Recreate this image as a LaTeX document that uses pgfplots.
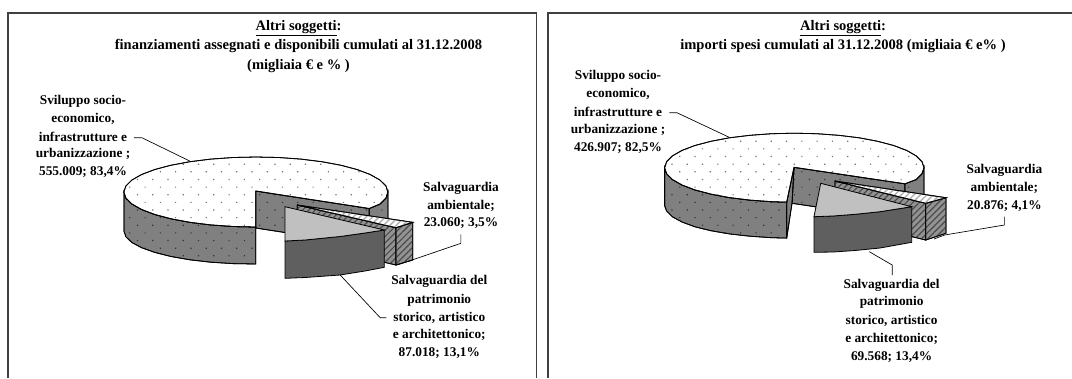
\documentclass[border=0pt]{standalone}
\usepackage{fontspec}
\setmainfont{Liberation Serif}
\usepackage{pgfplots}
\pgfplotsset{compat=1.18}
\usetikzlibrary{patterns.meta}
\definecolor{wallgray}{HTML}{808080}
\definecolor{darkwall}{HTML}{5F5F5F}
\definecolor{lighttop}{HTML}{C0C0C0}
\tikzset{
  dottop/.style={draw=black, line width=0.6pt, preaction={fill=white},
    pattern={Dots[distance=8.1pt, angle=45, radius=0.62pt]}, pattern color=black!55},
  dotwall/.style={draw=black, line width=0.6pt, preaction={fill=wallgray},
    pattern={Dots[distance=8.1pt, angle=45, radius=0.62pt]}, pattern color=black!80},
  hatchtop/.style={draw=black, line width=0.6pt, preaction={fill=white},
    pattern={Lines[distance=3.4pt, angle=45, line width=1.1pt]}, pattern color=black!30},
  hatchwall/.style={draw=black, line width=0.6pt, preaction={fill=wallgray!85},
    pattern={Lines[distance=3.4pt, angle=45, line width=0.9pt]}, pattern color=black!70},
  lead/.style={black, line width=0.5pt},
  lab/.style={font=\fontsize{10pt}{11pt}\selectfont\bfseries, anchor=center, inner sep=0pt},
  ttl/.style={font=\fontsize{10.9pt}{11pt}\selectfont\bfseries, anchor=center, inner sep=0pt},
}
\begin{document}
\begin{tikzpicture}
\begin{axis}[
  scale only axis, width=804pt, height=283.5pt,
  xmin=0, xmax=1072, ymin=0, ymax=378, y dir=reverse,
  hide axis, clip=true, line join=miter,
]
% keeps the page as large as the whole axis
\path (axis cs:0,0) rectangle (axis cs:1072,378);
% frames
\addplot[black!75, line width=1.1pt] coordinates {(8,378) (8,13) (536.5,13) (536.5,378)};
\addplot[black!75, line width=1.1pt] coordinates {(547.8,378) (547.8,13) (1072,13)};

% left pie: large slice
\addplot[dotwall] coordinates {(255.7,191) (369.3,208.5) (369.3,245.5) (255.7,228)} --cycle;
\addplot[dotwall] coordinates {(369.3,208.5) (380,204) (385.9,198.1) (387.9,192) (387.9,229) (385.9,235.1) (380,241) (369.3,245.5)} --cycle;
\addplot[dotwall] coordinates {(123.9,192) (125.9,198.1) (131.9,204) (141.6,209.5) (154.8,214.5) (171.1,218.8) (189.9,222.3) (210.8,224.9) (233,226.5) (255.7,227)
  (255.7,264) (233,263.6) (210.8,262.2) (189.9,259.8) (171.1,256.5) (154.8,252.4) (141.6,247.7) (131.9,242.5) (125.9,236.8) (123.9,231)} --cycle;
\addplot[dottop] coordinates {(255.7,191) (369.3,208.5) (380,204) (385.9,198.1) (387.9,192) (385.9,185.9) (379.9,180) (370.2,174.5) (357,169.5) (340.7,165.2) (321.9,161.7) (301,159.1) (278.8,157.5) (255.9,157)
  (233,157.5) (210.8,159.1) (189.9,161.7) (171.1,165.2) (154.8,169.5) (141.6,174.5) (131.9,180) (125.9,185.9) (123.9,192)
  (125.9,198.1) (131.9,204) (141.6,209.5) (154.8,214.5) (171.1,218.8) (189.9,222.3) (210.8,224.9) (233,226.5) (255.7,227)} --cycle;
% left pie: ambientale
\addplot[hatchwall] coordinates {(297.3,205) (396,227.7) (396,265) (297.3,242)} --cycle;
\addplot[hatchwall] coordinates {(396,227.7) (412.7,222.3) (412.7,260) (396,265)} --cycle;
\addplot[hatchtop] coordinates {(297.3,205) (412.7,222.3) (396,227.7)} --cycle;
% left pie: patrimonio
\addplot[draw=black, fill=darkwall, line width=0.6pt] coordinates {(285,241) (305,240) (340,236.5) (365,233) (384.3,230) (384.3,267.3) (365,271) (340,275) (305,277.5) (285,278.3)} --cycle;
\addplot[draw=black, fill=lighttop, line width=0.6pt] coordinates {(285,206.7) (384.3,230) (365,233) (340,236.5) (305,240) (285,241)} --cycle;
% left leaders
\addplot[lead] coordinates {(134,137.7) (141.9,137.7) (189.7,161)};
\addplot[lead] coordinates {(460.9,234.3) (460.9,243.3) (412,260) (396.6,265)};
\addplot[lead] coordinates {(340.2,275) (380.2,317.7) (386.3,317.7)};

% right pie: large slice
\addplot[dotwall] coordinates {(794,167.3) (905,183.8) (905,220) (792,203.3)} --cycle;
\addplot[dotwall] coordinates {(905,183.8) (916.2,179.5) (922,173.7) (924,167.7) (924,203.7) (922,209.7) (916.2,215.5) (905,219.8)} --cycle;
\addplot[dotwall] coordinates {(664.6,167.7) (666.6,173.7) (672.4,179.5) (682,185) (694.9,189.9) (710.9,194.1) (729.4,197.6) (749.9,200.1) (771.8,201.7) (786.7,202.1)
  (786.7,238.1) (771.8,237.7) (749.9,236.2) (729.4,233.9) (710.9,230.7) (694.9,226.8) (682,222) (672.4,216.8) (666.6,211) (664.6,205.5)} --cycle;
\addplot[dotwall] coordinates {(794,167.3) (786.7,202.1) (786.7,238.1) (792,203.3)} --cycle;
\addplot[dottop] coordinates {(794,167.3) (905,183.8) (916.2,179.5) (922,173.7) (924,167.7) (922,161.7) (916.2,155.9) (906.6,150.4) (893.7,145.5) (877.7,141.3) (859.2,137.8) (838.7,135.3) (816.8,133.7) (794.3,133.2)
  (771.8,133.7) (749.9,135.3) (729.4,137.8) (710.9,141.3) (694.9,145.5) (682,150.4) (672.4,155.9) (666.6,161.7) (664.6,167.7)
  (666.6,173.7) (672.4,179.5) (682,185) (694.9,189.9) (710.9,194.1) (729.4,197.6) (749.9,200.1) (771.8,201.7) (786.7,202.1)} --cycle;
% right pie: ambientale
\addplot[hatchwall] coordinates {(835,181) (925.7,203.3) (925.7,240) (835,218)} --cycle;
\addplot[hatchwall] coordinates {(925.7,203.3) (946,197.7) (946,233.3) (925.7,240)} --cycle;
\addplot[hatchtop] coordinates {(835,181) (946,197.7) (925.7,203.3)} --cycle;
% right pie: patrimonio
\addplot[draw=black, fill=darkwall, line width=0.6pt] coordinates {(814,216.7) (833,216) (855,214.3) (880,211.7) (911.7,206.7) (911.7,242.3) (880,248) (855,250.5) (833,252) (814,252.3)} --cycle;
\addplot[draw=black, fill=lighttop, line width=0.6pt] coordinates {(820.7,183.3) (911.7,206.7) (880,211.7) (855,214.3) (833,216) (814,216.7)} --cycle;
% right leaders
\addplot[lead] coordinates {(669.3,112.7) (676.9,112.7) (729.2,137.3)};
\addplot[lead] coordinates {(1004.4,216.7) (1004.4,225) (944.6,235) (934,239)};
\addplot[lead] coordinates {(869.3,251.7) (892.2,265) (892.2,275)};

% left texts
\node[ttl] at (axis cs:298.5,28.3) {\underline{Altri soggetti}:};
\node[ttl] at (axis cs:298.5,46) {finanziamenti assegnati e disponibili cumulati al 31.12.2008};
\node[ttl] at (axis cs:298.5,65.7) {(migliaia € e \% )};
\node[lab] at (axis cs:83,101) {Sviluppo socio-};
\node[lab] at (axis cs:83,119) {economico,};
\node[lab] at (axis cs:83,136.7) {infrastrutture e};
\node[lab] at (axis cs:83,154.3) {urbanizzazione ;};
\node[lab] at (axis cs:83,172.3) {555.009; 83,4\%};
\node[lab] at (axis cs:461,188) {Salvaguardia};
\node[lab] at (axis cs:461,205.7) {ambientale;};
\node[lab] at (axis cs:461,223.3) {23.060; 3,5\%};
\node[lab] at (axis cs:439.3,281.7) {Salvaguardia del};
\node[lab] at (axis cs:439.3,300) {patrimonio};
\node[lab] at (axis cs:439.3,317.7) {storico, artistico};
\node[lab] at (axis cs:439.3,335) {e architettonico;};
\node[lab] at (axis cs:439.3,353.3) {87.018; 13,1\%};

% right texts
\node[ttl] at (axis cs:843,28.3) {\underline{Altri soggetti}:};
\node[ttl] at (axis cs:843,46) {importi spesi cumulati al 31.12.2008 (migliaia € e\% )};
\node[lab] at (axis cs:618,76.7) {Sviluppo socio-};
\node[lab] at (axis cs:618,94.3) {economico,};
\node[lab] at (axis cs:618,112) {infrastrutture e};
\node[lab] at (axis cs:618,129.7) {urbanizzazione ;};
\node[lab] at (axis cs:618,147.7) {426.907; 82,5\%};
\node[lab] at (axis cs:1004.4,170) {Salvaguardia};
\node[lab] at (axis cs:1004.4,188) {ambientale;};
\node[lab] at (axis cs:1004.4,206) {20.876; 4,1\%};
\node[lab] at (axis cs:891.6,285) {Salvaguardia del};
\node[lab] at (axis cs:891.6,302.7) {patrimonio};
\node[lab] at (axis cs:891.6,321) {storico, artistico};
\node[lab] at (axis cs:891.6,338.7) {e architettonico;};
\node[lab] at (axis cs:891.6,356.7) {69.568; 13,4\%};
\end{axis}
\end{tikzpicture}
\end{document}
